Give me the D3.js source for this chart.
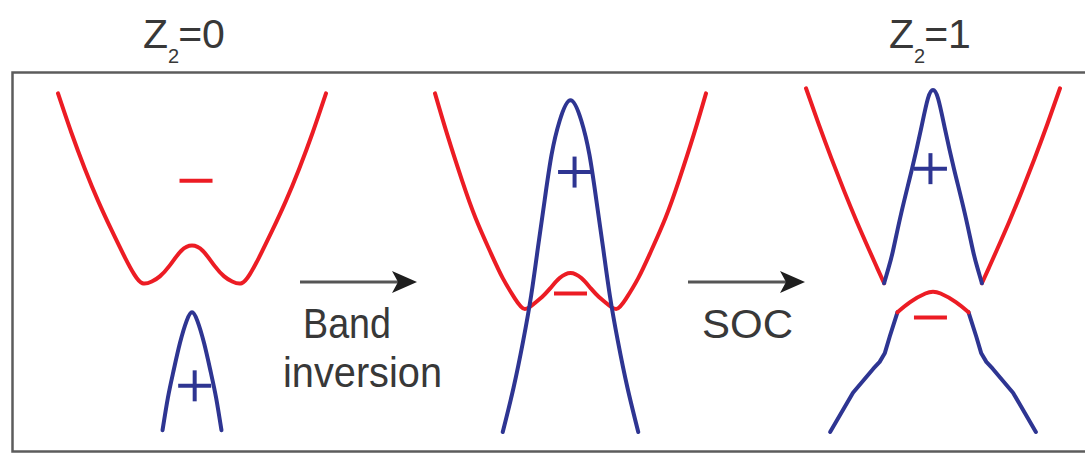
<!DOCTYPE html>
<html>
<head>
<meta charset="utf-8">
<script src="https://cdn.jsdelivr.net/npm/d3@7"></script>
<style>
	body { margin: 0; background: #fff; }
	text { font-family: "Liberation Sans", Arial, Helvetica, sans-serif; fill: #383838; }
</style>
</head>
<body>
<div id="chart"></div>
<script>
// titles: [main, subscript, rest]
const titles = [["Z", "2", "=0"], ["Z", "2", "=1"]];
const arrowLabels = [["Band", "inversion"], ["SOC"]];

// bands as [k, E], both roughly in -1..1
const trivialCond = [[-1.00, 0.98], [-0.90, 0.75], [-0.80, 0.54], [-0.70, 0.35], [-0.60, 0.18], [-0.50, 0.02], [-0.43, -0.08],
	[-0.37, -0.13], [-0.30, -0.12], [-0.24, -0.09], [-0.17, -0.03], [-0.08, 0.06], [0.00, 0.09], [0.08, 0.06], [0.17, -0.03],
	[0.24, -0.09], [0.30, -0.12], [0.37, -0.13], [0.43, -0.08], [0.50, 0.02], [0.60, 0.18], [0.70, 0.35], [0.80, 0.54], [0.90, 0.75], [1.00, 0.98]];
const trivialVal = [[-0.22, -0.99], [-0.18, -0.80], [-0.14, -0.65], [-0.09, -0.48], [-0.04, -0.35], [0.00, -0.30],
	[0.04, -0.35], [0.09, -0.48], [0.14, -0.65], [0.18, -0.80], [0.22, -0.99]];

const invertedCond = [[-1.00, 0.98], [-0.91, 0.74], [-0.80, 0.47], [-0.70, 0.25], [-0.59, 0.05], [-0.50, -0.10], [-0.41, -0.22],
	[-0.34, -0.28], [-0.27, -0.25], [-0.21, -0.21], [-0.15, -0.16], [-0.08, -0.10], [0.00, -0.07], [0.08, -0.10], [0.15, -0.16],
	[0.21, -0.21], [0.27, -0.25], [0.34, -0.28], [0.41, -0.22], [0.50, -0.10], [0.59, 0.05], [0.70, 0.25], [0.80, 0.47], [0.91, 0.74], [1.00, 0.98]];
const invertedVal = [[-0.50, -1.00], [-0.42, -0.74], [-0.35, -0.47], [-0.29, -0.20], [-0.24, 0.08], [-0.19, 0.36], [-0.14, 0.62],
	[-0.08, 0.82], [0.00, 0.94], [0.08, 0.82], [0.14, 0.62], [0.19, 0.36], [0.24, 0.08], [0.29, -0.20], [0.35, -0.47], [0.42, -0.74], [0.50, -1.00]];

const socUpperLeft = [[-1.00, 1.01], [-0.90, 0.80], [-0.80, 0.60], [-0.70, 0.41], [-0.60, 0.23], [-0.50, 0.06], [-0.44, -0.04], [-0.385, -0.13]];
const socUpperMid = [[-0.385, -0.13], [-0.35, -0.04], [-0.315, 0.06], [-0.25, 0.28], [-0.165, 0.54], [-0.095, 0.77], [-0.04, 0.95], [0.00, 1.00],
	[0.04, 0.95], [0.095, 0.77], [0.165, 0.54], [0.25, 0.28], [0.315, 0.06], [0.35, -0.04], [0.385, -0.13]];
const socUpperRight = [[0.385, -0.13], [0.44, -0.04], [0.50, 0.06], [0.60, 0.23], [0.70, 0.41], [0.80, 0.60], [0.90, 0.80], [1.00, 1.01]];
const socGapCap = [[-0.28, -0.30], [-0.18, -0.24], [-0.06, -0.19], [0.00, -0.18], [0.06, -0.19], [0.18, -0.24], [0.28, -0.30]];
const socLowerLeft = [[-0.81, -1.00], [-0.63, -0.77], [-0.47, -0.63], [-0.42, -0.59], [-0.38, -0.54], [-0.34, -0.44], [-0.28, -0.30]];
const socLowerRight = [[0.28, -0.30], [0.34, -0.44], [0.38, -0.54], [0.42, -0.59], [0.47, -0.63], [0.63, -0.77], [0.81, -1.00]];

const parities = [
	{ panel: 0, k: 0.03, e: 0.47, sign: "-" },
	{ panel: 0, k: 0.02, e: -0.73, sign: "+" },
	{ panel: 1, k: 0.03, e: 0.52, sign: "+" },
	{ panel: 1, k: 0.00, e: -0.19, sign: "-" },
	{ panel: 2, k: -0.02, e: 0.54, sign: "+" },
	{ panel: 2, k: -0.02, e: -0.33, sign: "-" }
];

const RED = "#ec1c24";
const BLUE = "#2e3592";

class BandDiagram {

	constructor(){
		this.width = 1085;
		this.height = 454;
		this.panels = [];
		this.y = d3.scaleLinear().domain([-1, 1]).range([432, 90]);

		this.svg = d3.select("#chart").append("svg")
			.attr("width", this.width).attr("height", this.height);

		this.svg.append("rect")
			.attr("x", 12.5).attr("y", 72.5).attr("width", 1100).attr("height", 379)
			.attr("fill", "none").attr("stroke", "#5c5c5c").attr("stroke-width", 2.5);
	}

	addPanel(x0, x1){
		this.panels.push(d3.scaleLinear().domain([-1, 1]).range([x0, x1]));
	}

	addBand(panel, points, color, curve){
		let x = this.panels[panel], y = this.y;
		let line = d3.line()
			.x(d => x(d[0])).y(d => y(d[1]))
			.curve(curve || d3.curveNatural);

		this.svg.append("path")
			.datum(points)
			.attr("d", line)
			.attr("fill", "none").attr("stroke", color).attr("stroke-width", 4)
			.attr("stroke-linecap", "round").attr("stroke-linejoin", "round");
	}

	addSigns(list){
		let g = this.svg.append("g");
		list.forEach(p => {
			let cx = this.panels[p.panel](p.k), cy = this.y(p.e);
			let color = p.sign == "+" ? BLUE : RED;
			g.append("line")
				.attr("x1", cx - 16.5).attr("x2", cx + 16.5).attr("y1", cy).attr("y2", cy)
				.attr("stroke", color).attr("stroke-width", 4);
			if(p.sign == "+"){
				g.append("line")
					.attr("x1", cx).attr("x2", cx).attr("y1", cy - 15.5).attr("y2", cy + 15.5)
					.attr("stroke", color).attr("stroke-width", 4);
			}
		});
	}

	addArrow(x0, x1, yy){
		this.svg.append("line")
			.attr("x1", x0).attr("x2", x1 - 12).attr("y1", yy).attr("y2", yy)
			.attr("stroke", "#555").attr("stroke-width", 3);
		this.svg.append("path")
			.attr("d", "M" + x1 + "," + yy + " L" + (x1 - 25) + "," + (yy - 11) + " L" + (x1 - 19) + "," + yy + " L" + (x1 - 25) + "," + (yy + 11) + "Z")
			.attr("fill", "#1e1e1e");
	}

	addLabel(x, yy, str, size, len){
		this.svg.append("text")
			.attr("x", x).attr("y", yy)
			.attr("font-size", size)
			.attr("textLength", len).attr("lengthAdjust", "spacingAndGlyphs")
			.text(str);
	}

	addTitle(x, parts){
		let t = this.svg.append("text")
			.attr("x", x).attr("y", 48).attr("font-size", 41);
		t.append("tspan").text(parts[0]);
		t.append("tspan").attr("dy", 15).attr("font-size", 20).text(parts[1]);
		t.append("tspan").attr("dy", -15).attr("dx", -1).text(parts[2]);
	}
}

let chart = new BandDiagram();
chart.addPanel(58, 326);
chart.addPanel(435, 706);
chart.addPanel(806, 1060);

chart.addBand(0, trivialCond, RED);
chart.addBand(0, trivialVal, BLUE);

chart.addBand(1, invertedCond, RED);
chart.addBand(1, invertedVal, BLUE);

chart.addBand(2, socUpperLeft, RED);
chart.addBand(2, socUpperRight, RED);
chart.addBand(2, socUpperMid, BLUE);
chart.addBand(2, socLowerLeft, BLUE, d3.curveLinear);
chart.addBand(2, socLowerRight, BLUE, d3.curveLinear);
chart.addBand(2, socGapCap, RED);

chart.addSigns(parities);

chart.addArrow(300, 417, 282);
chart.addArrow(688, 805, 282);

chart.addLabel(303, 338, arrowLabels[0][0], 42, 88);
chart.addLabel(283, 387, arrowLabels[0][1], 42, 159);
chart.addLabel(702, 338, arrowLabels[1][0], 40, 91);

chart.addTitle(143, titles[0]);
chart.addTitle(889, titles[1]);
</script>
</body>
</html>
